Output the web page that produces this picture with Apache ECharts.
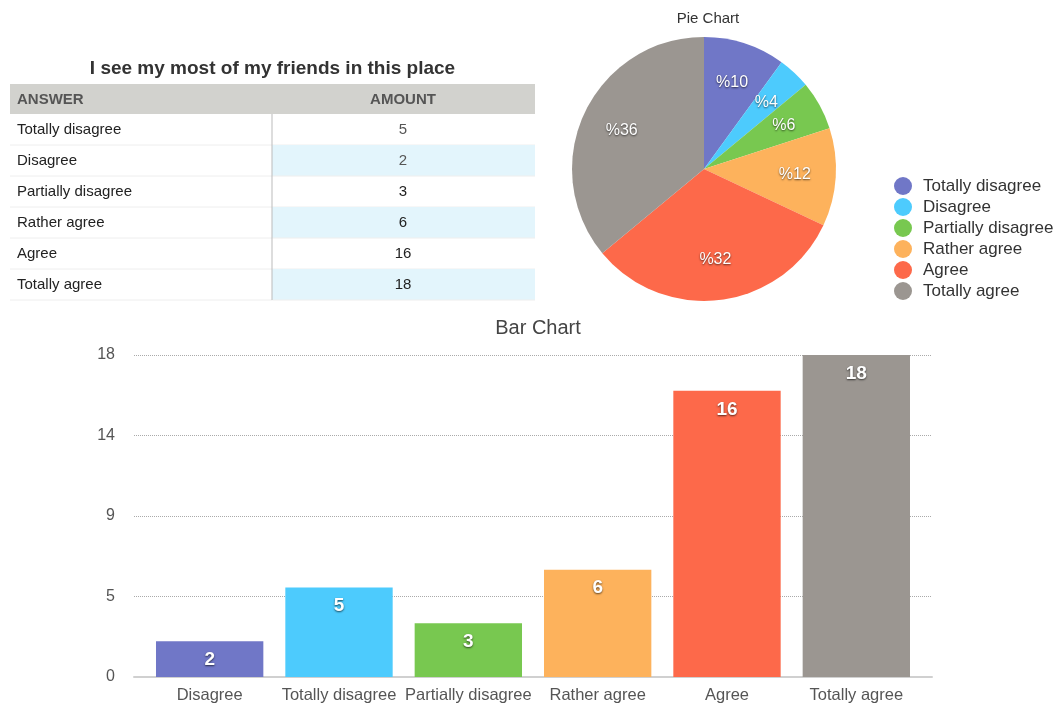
<!DOCTYPE html>
<html>
<head>
<meta charset="utf-8">
<script src="https://cdn.jsdelivr.net/npm/echarts@6/dist/echarts.min.js"></script>
<style>
  html, body { margin: 0; padding: 0; background: #fff; }
  #chart { width: 1063px; height: 706px; }
</style>
</head>
<body>
<div id="chart"></div>
<script>
// table / pie data
var answers = ["Totally disagree", "Disagree", "Partially disagree", "Rather agree", "Agree", "Totally agree"];
var amounts = [5, 2, 3, 6, 16, 18];

// bar chart data (order as shown in the picture)
var barCategories = ["Disagree", "Totally disagree", "Partially disagree", "Rather agree", "Agree", "Totally agree"];
var barValues = [2, 5, 3, 6, 16, 18];

var palette = ["#7077c7", "#4dcbfd", "#78c850", "#fdb25c", "#fd694a", "#9b9691"];
var FONT = "'Liberation Sans', Arial, sans-serif";

var whiteLabel = {
  color: "#fff",
  fontFamily: FONT,
  textShadowColor: "rgba(0,0,0,0.65)",
  textShadowBlur: 2,
  textShadowOffsetY: 1
};

function buildTable() {
  var left = 10, right = 535, divX = 272;
  var headTop = 84, headH = 30, rowH = 31;
  var items = [];

  items.push({ type: "text", style: { x: (left + right) / 2, y: 69, text: "I see my most of my friends in this place",
    fill: "#333", font: "bold 19px " + FONT, textAlign: "center", textVerticalAlign: "middle" } });
  items.push({ type: "rect", shape: { x: left, y: headTop, width: right - left, height: headH }, style: { fill: "#d2d2ce" } });
  items.push({ type: "text", style: { x: 17, y: headTop + headH / 2 + 1, text: "ANSWER", fill: "#555",
    font: "bold 15px " + FONT, textVerticalAlign: "middle" } });
  items.push({ type: "text", style: { x: 403, y: headTop + headH / 2 + 1, text: "AMOUNT", fill: "#555",
    font: "bold 15px " + FONT, textAlign: "center", textVerticalAlign: "middle" } });

  answers.forEach(function(name, i) {
    var y0 = headTop + headH + i * rowH;
    if(i % 2 === 1) {
      items.push({ type: "rect", shape: { x: divX, y: y0, width: right - divX, height: rowH }, style: { fill: "#e3f5fc" } });
    }
    items.push({ type: "line", shape: { x1: left, y1: y0 + rowH, x2: right, y2: y0 + rowH },
      style: { stroke: "#eeeeee", lineWidth: 1 } });
    items.push({ type: "text", style: { x: 17, y: y0 + rowH / 2, text: name, fill: "#222",
      font: "15px " + FONT, textVerticalAlign: "middle" } });
    items.push({ type: "text", style: { x: 403, y: y0 + rowH / 2, text: String(amounts[i]),
      fill: i < 2 ? "#555" : "#222", font: "15px " + FONT, textAlign: "center", textVerticalAlign: "middle" } });
  });

  items.push({ type: "line", shape: { x1: divX, y1: headTop + headH, x2: divX, y2: headTop + headH + rowH * answers.length },
    style: { stroke: "#bbbbbb", lineWidth: 1 } });

  return items;
}

var pieData = answers.map(function(name, i) {
  return { name: name, value: amounts[i], itemStyle: { color: palette[i] } };
});

var myChart = echarts.init(document.getElementById("chart"), null, { renderer: "canvas" });

var options = {
  animation: false,
  textStyle: { fontFamily: FONT },
  title: [
    { text: "Pie Chart", left: 703, top: 6, textAlign: "center",
      textStyle: { fontSize: 15, fontWeight: "normal", color: "#333", fontFamily: FONT } },
    { text: "Bar Chart", left: 533, top: 313, textAlign: "center",
      textStyle: { fontSize: 20, fontWeight: "normal", color: "#444", fontFamily: FONT } }
  ],
  legend: {
    orient: "vertical",
    left: 889,
    top: 172,
    icon: "circle",
    itemWidth: 18,
    itemHeight: 18,
    itemGap: 3,
    data: answers,
    textStyle: { fontSize: 17, color: "#333", fontFamily: FONT, padding: [0, 0, 0, 6] }
  },
  // grid 0: gridlines and axis line (full width); grid 1: the bars
  grid: [
    { left: 134, right: 131, top: 355, bottom: 29 },
    { left: 145, right: 142, top: 355, bottom: 29 }
  ],
  xAxis: [
    { type: "category", gridIndex: 0, data: barCategories, show: true,
      axisLine: { lineStyle: { color: "#d0d0d0", width: 2 } },
      axisTick: { show: false }, axisLabel: { show: false }, splitLine: { show: false } },
    { type: "category", gridIndex: 1, data: barCategories,
      axisLine: { show: false }, axisTick: { show: false },
      axisLabel: { fontSize: 16.5, color: "#555", margin: 10, fontFamily: FONT, interval: 0 } }
  ],
  yAxis: [
    { type: "value", gridIndex: 0, min: 0, max: 18, interval: 4.5,
      axisLine: { show: false }, axisTick: { show: false },
      axisLabel: { fontSize: 16, color: "#555", margin: 19, fontFamily: FONT,
        formatter: function(v) { return Math.round(v); } },
      splitLine: { lineStyle: { type: "dotted", color: "#aaaaaa" } } },
    { type: "value", gridIndex: 1, min: 0, max: 18, interval: 4.5, show: false }
  ],
  series: [
    {
      type: "pie",
      center: [704, 169],
      radius: 132,
      startAngle: 90,
      label: { show: false },
      labelLine: { show: false },
      data: pieData
    },
    {
      // transparent ring only for placing the percentage labels
      type: "pie",
      center: [704, 169],
      radius: [44, 132],
      startAngle: 90,
      silent: true,
      legendHoverLink: false,
      itemStyle: { color: "rgba(0,0,0,0)", borderWidth: 0 },
      label: Object.assign({ show: true, position: "inside", fontSize: 16,
        formatter: function(p) { return "%" + Math.round(p.percent); } }, whiteLabel),
      labelLine: { show: false },
      data: answers.map(function(name, i) { return { name: name, value: amounts[i] }; })
    },
    {
      type: "bar",
      xAxisIndex: 1,
      yAxisIndex: 1,
      barWidth: "83%",
      data: barValues.map(function(v, i) {
        return { value: v, itemStyle: { color: palette[i] } };
      }),
      label: Object.assign({ show: true, position: "insideTop", distance: 9, fontSize: 19, fontWeight: "bold" }, whiteLabel)
    }
  ],
  graphic: buildTable()
};

myChart.setOption(options);
</script>
</body>
</html>
